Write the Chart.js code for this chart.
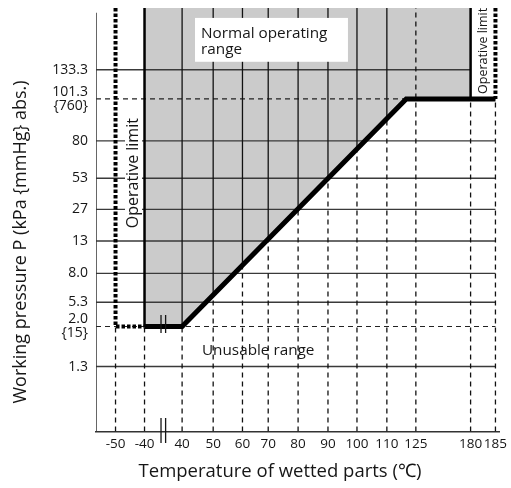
<!DOCTYPE html>
<html>
<head>
<meta charset="utf-8">
<script src="https://cdn.jsdelivr.net/npm/chart.js@4.4.1/dist/chart.umd.min.js"></script>
<style>
  html, body { margin: 0; padding: 0; background: #fff; }
</style>
</head>
<body>
<canvas id="chart" width="511" height="488"></canvas>
<script>
// tick values on both axes (the figure is schematic, not to scale)
const tempTicks = [-50, -40, 40, 50, 60, 70, 80, 90, 100, 110, 125, 180, 185];
const pressTicks = [1.3, 2.0, 5.3, 8.0, 13, 27, 53, 80, 101.3, 133.3];
const pressLabels = ['1.3', ['2.0', '{15}'], '5.3', '8.0', '13', '27', '53', '80', ['101.3', '{760}'], '133.3'];

// lower edge of the normal operating range (bold line), °C / kPa
const edgeTemp = [-40, 40, 120, 185];
const edgePress = [2.0, 2.0, 101.3, 101.3];

// operative limits, °C
const lowLimitTemp = -50;
const lowRangeTemp = -40;
const highRangeTemp = 180;
const highLimitTemp = 185;

const xTitle = 'Temperature of wetted parts (\u2103)';
const yTitle = 'Working pressure P (kPa {mmHg} abs.)';

// axis layout: where each tick sits, in grid steps
const tempSlots = [0, 0.98, 2.25, 3.3, 4.29, 5.16, 6.17, 7.18, 8.16, 9.17, 10.15, 12.0, 12.84];
const pressSlots = [2.03, 3.28, 4.04, 4.94, 5.95, 6.94, 7.91, 9.08, 10.39, 11.3];
const X_MIN = -0.66, X_MAX = 12.96, Y_MIN = 0, Y_MAX = 13.23, AXIS_TOP = 13.08;

const FONT = "'Open Sans', sans-serif";
const INK = '#161616';

function interp(v, from, to) {
  let i = 0;
  while (i < from.length - 2 && v > from[i + 1]) i++;
  return to[i] + (v - from[i]) / (from[i + 1] - from[i]) * (to[i + 1] - to[i]);
}
const tx = t => interp(t, tempTicks, tempSlots);
const py = p => interp(p, pressTicks, pressSlots);

const edgeX = edgeTemp.map(tx);
const edgeY = edgePress.map(py);
const floorAt = xs => interp(xs, edgeX, edgeY);

const seg = (x1, y1, x2, y2) => [{x: x1, y: y1}, {x: x2, y: y2}, {x: x2, y: null}];

// grid pieces
const hSolid = [], hDashed = [], vSolid = [], vDashed = [];
const topPress = Math.max(...edgePress);
const rampEnd = edgeTemp[2];
pressTicks.forEach(p => {
  const y = py(p);
  const end = tx(p > topPress ? highRangeTemp : highLimitTemp);
  (edgePress.includes(p) ? hDashed : hSolid).push(...seg(X_MIN, y, end, y));
});
tempTicks.forEach(t => {
  const x = tx(t);
  const floor = (t > rampEnd && t < highRangeTemp) ? Y_MAX : floorAt(x);
  vDashed.push(...seg(x, Y_MIN, x, floor));
  if (t > lowRangeTemp && t < rampEnd) vSolid.push(...seg(x, floor, x, Y_MAX));
});

const fillPts = edgeTemp.map((t, i) => ({x: tx(Math.min(t, highRangeTemp)), y: py(edgePress[i])}));
const edgePts = edgeTemp.map((t, i) => ({x: tx(t), y: py(edgePress[i])}));
const rangeSides = [
  ...seg(tx(lowRangeTemp), py(edgePress[0]), tx(lowRangeTemp), Y_MAX),
  ...seg(tx(highRangeTemp), py(topPress), tx(highRangeTemp), Y_MAX)
];
const limitPts = [
  {x: tx(lowLimitTemp), y: Y_MAX}, {x: tx(lowLimitTemp), y: py(edgePress[0])},
  {x: tx(lowRangeTemp), y: py(edgePress[0])}, {x: tx(lowRangeTemp), y: null},
  ...seg(tx(highLimitTemp), Y_MAX, tx(highLimitTemp), py(topPress))
];
const axisPts = [{x: X_MIN, y: Y_MIN}, {x: X_MIN, y: AXIS_TOP}];

const line = (data, color, width, dash, order, extra) => Object.assign({
  data, borderColor: color, borderWidth: width, borderDash: dash || [],
  pointRadius: 0, fill: false, tension: 0, spanGaps: false, order,
  borderCapStyle: 'butt', borderJoinStyle: 'miter'
}, extra || {});

const decor = {
  id: 'decor',
  afterDatasetsDraw(chart) {
    const {ctx, scales: {x, y}} = chart;
    const X = v => x.getPixelForValue(v);
    const Y = v => y.getPixelForValue(v);
    ctx.save();
    ctx.fillStyle = '#fff';
    // label boxes
    ctx.fillRect(X(2.686), Y(12.92), X(7.855) - X(2.686), Y(11.55) - Y(12.92));
    ctx.fillRect(X(0.32), Y(9.86), X(0.895) - X(0.32), Y(6.27) - Y(9.86));

    ctx.fillStyle = INK;
    ctx.font = '15.3px ' + FONT;
    ctx.textAlign = 'left';
    ctx.textBaseline = 'alphabetic';
    ctx.fillText('Normal operating', X(2.89), Y(12.30));
    ctx.fillText('range', X(2.89), Y(11.78));
    ctx.fillText('Unusable range', X(2.92), Y(2.39));

    const vtext = (txt, cx, cy, size) => {
      ctx.save();
      ctx.translate(cx, cy);
      ctx.rotate(-Math.PI / 2);
      ctx.font = size + 'px ' + FONT;
      ctx.textAlign = 'center';
      ctx.textBaseline = 'middle';
      ctx.fillText(txt, 0, 0);
      ctx.restore();
    };
    vtext('Operative limit', X(0.61), Y(8.07), 16);
    vtext('Operative limit', X(12.42), Y(11.89), 12.5);

    // axis break marks
    ctx.strokeStyle = INK;
    ctx.lineWidth = 1.3;
    const bx = (X(tx(lowRangeTemp)) + X(tx(edgeTemp[1]))) / 2;
    const yb = Y(Y_MIN), y2 = Y(py(edgePress[0]));
    ctx.beginPath();
    [-2.3, 2.3].forEach(d => {
      ctx.moveTo(bx + d, yb - 13.5); ctx.lineTo(bx + d, yb + 11.5);
      ctx.moveTo(bx + d, y2 - 11.5); ctx.lineTo(bx + d, y2 + 6.5);
    });
    ctx.stroke();

    // axis titles
    ctx.font = '18.5px ' + FONT;
    ctx.textAlign = 'center';
    ctx.textBaseline = 'middle';
    ctx.fillText(xTitle, 280, 472);
    vtext(yTitle, 21, 242, 18);
    ctx.restore();
  }
};

Chart.defaults.font.family = FONT;
Chart.defaults.color = INK;

new Chart(document.getElementById('chart'), {
  type: 'line',
  data: {
    datasets: [
      line(fillPts, 'rgba(0,0,0,0)', 0, null, 9, {fill: 'end', backgroundColor: '#cbcbcb'}),
      line(hSolid, '#3a3a3a', 1.4, null, 6),
      line(hDashed, '#222', 1.2, [5, 4], 6),
      line(vSolid, '#111', 1.3, null, 5),
      line(vDashed, '#111', 1.3, [5, 4], 5),
      line(rangeSides, '#000', 2.5, null, 3),
      line(edgePts, '#000', 5, null, 2),
      line(limitPts, '#000', 4, [3.5, 2], 1),
      line(axisPts, '#333', 1.5, null, 0)
    ]
  },
  options: {
    responsive: false,
    animation: false,
    events: [],
    layout: {padding: {left: 0, right: 12, top: 8, bottom: 0}},
    plugins: {legend: {display: false}, tooltip: {enabled: false}},
    scales: {
      x: {
        type: 'linear',
        min: X_MIN,
        max: X_MAX,
        grid: {display: false, drawTicks: false, tickLength: 0},
        border: {display: true, color: '#333', width: 1.5},
        afterBuildTicks: s => { s.ticks = tempSlots.map(v => ({value: v})); },
        afterFit: s => { s.height = 56.5; s.paddingLeft = 0; s.paddingRight = 0; },
        ticks: {
          autoSkip: false, maxRotation: 0, minRotation: 0, padding: 5,
          font: {size: 13.5},
          callback: (v, i) => String(tempTicks[i])
        }
      },
      y: {
        type: 'linear',
        min: Y_MIN,
        max: Y_MAX,
        grid: {display: false, drawTicks: false, tickLength: 0},
        border: {display: false},
        afterBuildTicks: s => { s.ticks = pressSlots.map(v => ({value: v})); },
        afterFit: s => { s.width = 96; s.paddingTop = 0; s.paddingBottom = 0; },
        ticks: {
          autoSkip: false, padding: 8,
          font: {size: 14, lineHeight: 1.0},
          callback: (v, i) => pressLabels[i]
        }
      }
    }
  },
  plugins: [decor]
});
</script>
</body>
</html>
